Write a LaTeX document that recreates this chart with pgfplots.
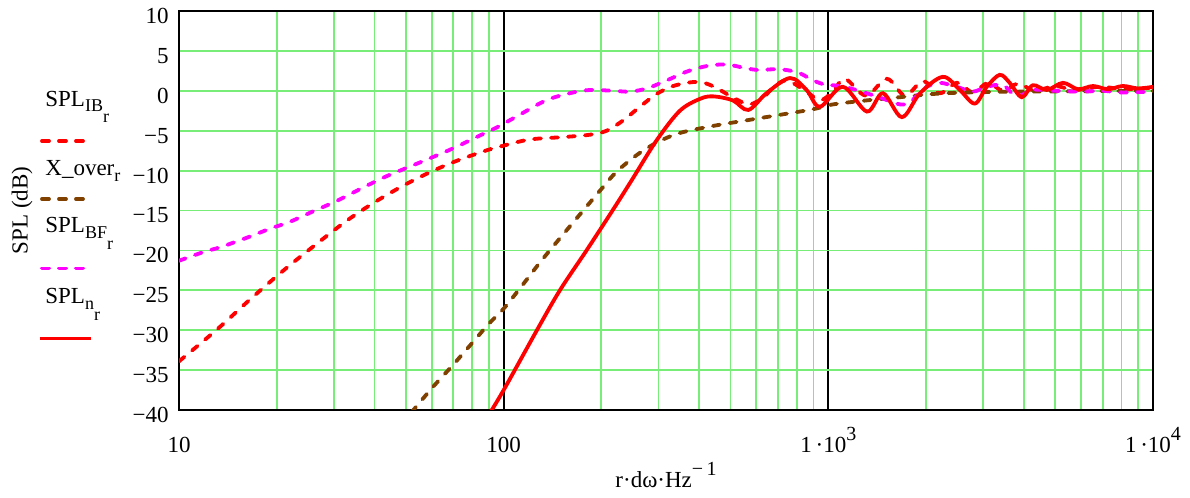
\documentclass[border=0pt]{standalone}
\usepackage{fontspec}
\setmainfont{Liberation Serif}
\usepackage{pgfplots}
\pgfplotsset{compat=1.18}

\definecolor{gridgreen}{RGB}{120,238,120}
\definecolor{xbrown}{RGB}{128,64,0}
\definecolor{xmagenta}{RGB}{255,0,255}
\definecolor{xred}{RGB}{255,0,0}
\newcommand{\lsub}[1]{\raisebox{-2.8pt}{\fontsize{9}{10}\selectfont #1}}
\newcommand{\lsubb}[1]{\raisebox{-8.3pt}{\fontsize{9}{10}\selectfont #1}}
\newcommand{\upp}[1]{\raisebox{6pt}{\fontsize{10}{10}\selectfont #1}}

\begin{document}
\begin{tikzpicture}[font=\fontsize{11.5}{14}\selectfont]
\begin{axis}[
    name=ax,
    scale only axis,
    width=487pt,
    height=199.5pt,
    xmode=log,
    xmin=10, xmax=10000,
    ymin=-40, ymax=10,
    xtick={10,100,1000,10000},
    xticklabels={10,100,1\,·10\upp{3},1\,·10\upp{4}},
    minor xtick={20,30,40,50,60,70,80,90,200,300,400,500,600,700,800,900,2000,3000,4000,5000,6000,7000,8000,9000},
    ytick={-40,-35,...,10},
    yticklabels={−40,−35,−30,−25,−20,−15,−10,−5,0,5,10},
    major tick length=0pt,
    minor tick length=0pt,
    grid=both,
    major x grid style={black, line width=1pt},
    minor x grid style={gridgreen, line width=0.9pt},
    major y grid style={gridgreen, line width=0.9pt},
    axis line style={black, line width=1.1pt},
    xticklabel style={anchor=base, yshift=-21.5pt},
    yticklabel style={xshift=-1.7pt, yshift=-2.5pt},
    xlabel={r·dω·Hz\upp{−\,1}},
    xlabel style={at={(axis description cs:0.5,0)}, anchor=base, yshift=-39pt},
    ylabel={SPL (dB)},
    ylabel style={at={(axis description cs:-0.1612,0.5)}, anchor=center},
    every axis plot/.append style={line width=1.9pt, smooth, tension=0.55},
]

% SPL_IB_r
\addplot[xred, dash pattern=on 3.5pt off 5pt, line cap=round] coordinates {
(10,-33.9) (13.1,-29.9) (16.6,-26.1) (21.0,-22.5) (26.5,-19.2) (33.6,-16.0)
(42.6,-13.3) (54.0,-11.0) (68.4,-9.1) (86.5,-7.6) (99.3,-6.9) (120.5,-6.1)
(152.6,-5.8) (184.5,-5.5) (207.6,-5.0) (233.5,-3.7) (262.8,-2.0) (295.8,-0.4)
(332.8,0.6) (383.6,1.1) (421.8,0.9) (463.8,0.1) (522,-1.1) (573.9,-1.7)
(631,-0.8) (677,0.4) (744,1.3) (857,-0.1) (942,-1.2) (1033,-0.1) (1125,1.5)
(1306,-0.6) (1515,1.5) (1722,-0.6) (1955,1.2) (2207,-0.3) (2490,1.0)
(2788,-0.2) (3102,1.0) (3451,0.0) (3840,0.9) (4328,0.0) (4986,0.6)
(5750,0.1) (6861,0.5) (8190,0.2) (10000,0.4)
};

% X_over_r
\addplot[xbrown, dash pattern=on 3.5pt off 5pt, line cap=round] coordinates {
(52,-40.3) (60,-37.3) (70,-34.3) (80,-31.6) (90,-29.2) (100,-27.3) (113,-24.6)
(130,-21.4) (151,-18.2) (175,-15.1) (202,-12.1) (222,-10.2) (256,-8.1)
(296,-6.5) (348,-5.3) (442,-4.4) (560,-3.7) (712,-3.0) (899,-2.3)
(1035,-1.7) (1313,-1.2) (1662,-0.8) (2100,-0.4) (2700,-0.2) (4000,-0.1)
(10000,0)
};

% SPL_BF_r
\addplot[xmagenta, dash pattern=on 3.5pt off 5pt, line cap=round] coordinates {
(10,-21.3) (11.9,-20.2) (13.4,-19.6) (16.2,-18.4) (19.0,-17.3) (22.0,-16.4)
(25.9,-15.1) (30.6,-13.8) (37.0,-12.1) (43.6,-10.7) (51.4,-9.5) (62.2,-8.1)
(71.7,-7.0) (82.5,-5.8) (95.1,-4.6) (112,-3.0) (135,-1.2) (160,-0.3)
(184,0.1) (218,0.0) (245,-0.1) (276,0.3) (318,1.3) (366,2.4) (422,3.1)
(486,3.3) (560,2.8) (615,2.6) (677,2.7) (744,2.6) (817,2.2) (898,1.3)
(988,0.7) (1035,0.7) (1169,0.3) (1313,-0.3) (1477,-1.0) (1662,-1.7)
(1784,-1.4) (2009,0.5) (2207,1.0) (2485,0.5) (2788,-0.1) (3073,0.5)
(3451,0.7) (3802,-0.7) (4267,0.1) (5000,0.0) (6000,-0.1) (7000,0.0)
(8000,-0.2) (10000,-0.1)
};

% SPL_n_r
\addplot[xred, solid] coordinates {
(90,-40.6) (100,-37.5) (126.6,-30) (149,-25) (180,-20) (218,-14.8)
(248,-11.2) (296,-6.2) (349,-2.5) (403,-1.0) (443,-0.7) (508,-1.2)
(567,-2.4) (645,-0.3) (762,1.6) (857,0.1) (942,-2.0) (1109,0.5)
(1315,-2.6) (1473,-0.3) (1685,-3.3) (1916,-0.3) (2253,1.75) (2541,0.1)
(2826,-1.6) (3076,0.5) (3373,2.0) (3620,1.0) (3944,-0.8) (4265,0.7)
(4710,0.1) (5280,1.0) (5877,0.2) (6537,0.6) (7270,0.2) (8077,0.6)
(8986,0.3) (10000,0.5)
};
\end{axis}

% legend, Mathcad style: name above its line sample
\begin{scope}[shift={(ax.north west)}]
  \node[anchor=base west, inner sep=0pt] at (-67pt,-47.5pt) {SPL\lsub{IB}\lsubb{r}};
  \draw[xred, line width=1.9pt, dash pattern=on 3.5pt off 5pt, line cap=round] (-68.5pt,-65pt) -- (-48pt,-65pt);
  \node[anchor=base west, inner sep=0pt] at (-67pt,-82.3pt) {X\_over\lsub{r}};
  \draw[xbrown, line width=1.9pt, dash pattern=on 3.5pt off 5pt, line cap=round] (-68.5pt,-94pt) -- (-48pt,-94pt);
  \node[anchor=base west, inner sep=0pt] at (-67pt,-110.7pt) {SPL\lsub{BF}\lsubb{r}};
  \draw[xmagenta, line width=1.9pt, dash pattern=on 3.5pt off 5pt, line cap=round] (-68.5pt,-128.7pt) -- (-48pt,-128.7pt);
  \node[anchor=base west, inner sep=0pt] at (-67pt,-146.2pt) {SPL\lsub{n}\lsubb{r}};
  \draw[xred, line width=1.9pt] (-69.5pt,-163.7pt) -- (-44pt,-163.7pt);
\end{scope}

\pgfresetboundingbox
\path[use as bounding box] ([shift={(-89.5pt,-44pt)}]ax.south west) rectangle ++(595pt,249pt);
\end{tikzpicture}
\end{document}
